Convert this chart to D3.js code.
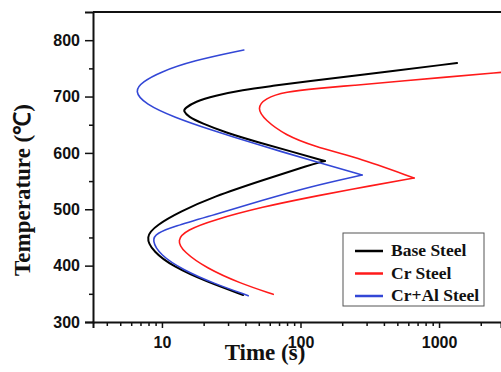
<!DOCTYPE html>
<html>
<head>
<meta charset="utf-8">
<script src="https://cdn.jsdelivr.net/npm/d3@7"></script>
<style>
  html, body { margin: 0; padding: 0; background: #fff; }
  svg { display: block; }
  .tick text { font-family: "Liberation Sans", Arial, sans-serif; font-weight: bold; font-size: 16px; fill: #111; }
  .title { font-family: "Liberation Serif", "Times New Roman", serif; font-weight: bold; fill: #111; }
</style>
</head>
<body>
<div id="chart"></div>
<script>
// TTT curves: time (s) vs temperature (°C)
const baseTime = [1349, 247, 114, 65.5, 37.6, 24.1, 17.3, 14.66, 14.25, 15.5, 19.35, 28.5, 49.6, 86.4,
                  150, 117, 53.9, 23.5, 13.5, 9.16, 7.54, 8.65, 12.07, 21.0, 38.6];
const baseTemp = [759.5, 737, 727.6, 719.3, 711.6, 701.5, 690.9, 679.2, 674.4, 664.3, 652.6, 636.6, 618.8, 602.2,
                  585.7, 578.6, 552, 522.3, 495.7, 472.1, 451.3, 424.7, 398.1, 371.5, 347.9];

const crTime = [3500, 443, 247, 134.5, 77.3, 55.4, 48.3, 55.4, 77.3, 127.3, 247,
                660, 216.6, 117, 53.9, 23.5, 15.08, 12.77, 14.25, 21.0, 36.6, 63.6];
const crTemp = [745, 725.8, 720, 714.7, 708.6, 696.9, 679.2, 658.4, 631.8, 611, 593.3,
                555.5, 534.2, 521.3, 504.6, 481, 463.2, 445.5, 424.7, 395.3, 368.7, 349.1];

const crAlTime = [39.0, 16.7, 9.63, 7.29, 6.28, 7.54, 12.4, 21.6, 49.6, 142.3,
                  278, 117, 53.9, 23.5, 12.07, 9.16, 8.43, 9.67, 14.25, 23.5, 42.0];
const crAlTemp = [782.6, 763.6, 743, 726.4, 709.9, 686.8, 662.8, 642.4, 614.1, 581.6,
                  560.8, 540.1, 516.5, 489.9, 469.1, 457.4, 445.5, 418.9, 392.3, 368.7, 346.7];

const seriesNames = ["Base Steel", "Cr Steel", "Cr+Al Steel"];
const seriesColors = ["#000000", "#ff1a1a", "#3347d6"];

const xMajor = [10, 100, 1000];
const xMinor = [4, 5, 6, 7, 8, 9, 20, 30, 40, 50, 60, 70, 80, 90, 200, 300, 400, 500, 600, 700, 800, 900, 2000];
const yMajor = [300, 400, 500, 600, 700, 800];
const yMinor = [350, 450, 550, 650, 750];

const width = 501, height = 372;
const margin = { top: 12, right: 0, bottom: 50, left: 93 };

const svg = d3.select("#chart").append("svg")
    .attr("width", width)
    .attr("height", height);

const x = d3.scaleLog()
    .domain([3.18, 2800])
    .range([margin.left, width - margin.right]);

const y = d3.scaleLinear()
    .domain([300, 850])
    .range([height - margin.bottom, margin.top]);

svg.append("clipPath").attr("id", "plot")
  .append("rect")
    .attr("x", margin.left).attr("y", margin.top)
    .attr("width", width - margin.left).attr("height", height - margin.bottom - margin.top);

// split a curve at its sharp tip (local max of time) so only the noses get smoothed
function splitAtTip(times, temps) {
    const pts = times.map((t, i) => [t, temps[i]]);
    let tip = 1;
    for (let i = 1; i < pts.length - 1; i++) {
        if (pts[i][0] > pts[i - 1][0] && pts[i][0] > pts[i + 1][0]) { tip = i; break; }
    }
    return [pts.slice(0, tip + 1), pts.slice(tip)];
}

// basis spline: smooths out the reading noise, still ends exactly on the end points
const line = d3.line()
    .x(d => x(d[0]))
    .y(d => y(d[1]))
    .curve(d3.curveBasis);

const series = [[baseTime, baseTemp], [crTime, crTemp], [crAlTime, crAlTemp]];
const widths = [2, 1.6, 1.6];

const curves = svg.append("g").attr("clip-path", "url(#plot)");
series.forEach((s, k) => {
    splitAtTip(s[0], s[1]).forEach(seg => {
        curves.append("path")
            .datum(seg)
            .attr("fill", "none")
            .attr("stroke", seriesColors[k])
            .attr("stroke-width", widths[k])
            .attr("stroke-linejoin", "round")
            .attr("stroke-linecap", "round")
            .attr("d", line);
    });
});

// axes
svg.append("g")
    .attr("transform", `translate(0,${height - margin.bottom})`)
    .call(d3.axisBottom(x).tickValues(xMajor).tickFormat(d3.format("d")).tickSize(6).tickPadding(9));
svg.append("g")
    .attr("transform", `translate(0,${height - margin.bottom})`)
    .call(d3.axisBottom(x).tickValues(xMinor).tickFormat("").tickSize(4))
    .select(".domain").remove();

svg.append("g")
    .attr("transform", `translate(${margin.left},0)`)
    .call(d3.axisLeft(y).tickValues(yMajor).tickSize(8).tickPadding(5));
svg.append("g")
    .attr("transform", `translate(${margin.left},0)`)
    .call(d3.axisLeft(y).tickValues(yMinor).tickFormat("").tickSize(4))
    .select(".domain").remove();

svg.selectAll(".domain").attr("stroke", "#111").attr("stroke-width", 2);
svg.selectAll(".tick line").attr("stroke", "#111").attr("stroke-width", 1.5);

// top frame line
svg.append("line")
    .attr("x1", margin.left).attr("x2", width)
    .attr("y1", margin.top).attr("y2", margin.top)
    .attr("stroke", "#111").attr("stroke-width", 2);

// axis titles
svg.append("text")
    .attr("class", "title")
    .attr("x", 265).attr("y", 360)
    .attr("text-anchor", "middle")
    .style("font-size", "23px")
    .text("Time (s)");

svg.append("text")
    .attr("class", "title")
    .attr("transform", "translate(30,190) rotate(-90)")
    .attr("text-anchor", "middle")
    .style("font-size", "23px")
    .text("Temperature (℃)");

// legend
const legend = svg.append("g").attr("transform", "translate(343,233)");
legend.append("rect")
    .attr("width", 141).attr("height", 73)
    .attr("fill", "#fff").attr("stroke", "#555").attr("stroke-width", 1);
seriesNames.forEach((name, i) => {
    const g = legend.append("g").attr("transform", `translate(0,${18 + i * 22.5})`);
    g.append("line")
        .attr("x1", 12).attr("x2", 40)
        .attr("stroke", seriesColors[i]).attr("stroke-width", 2.5);
    g.append("text")
        .attr("class", "title")
        .attr("x", 48).attr("y", 5)
        .style("font-size", "17.5px")
        .text(name);
});
</script>
</body>
</html>
